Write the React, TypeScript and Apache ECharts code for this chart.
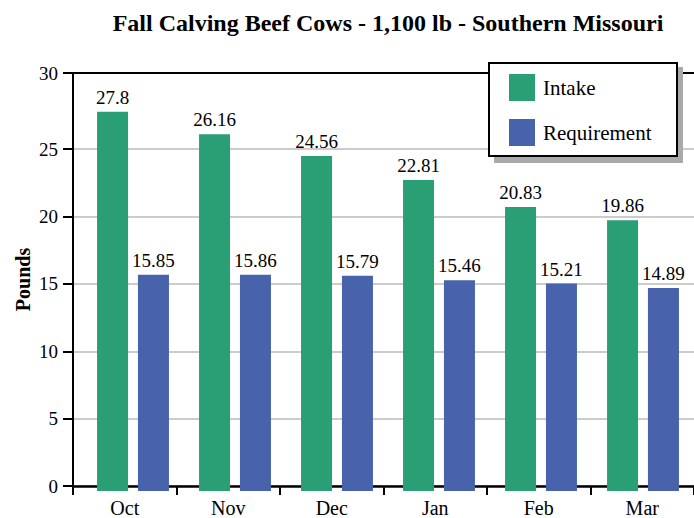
import React, { useEffect, useRef } from 'react';
import * as echarts from 'echarts';

const months = ['Oct', 'Nov', 'Dec', 'Jan', 'Feb', 'Mar'];
const intake = [27.8, 26.16, 24.56, 22.81, 20.83, 19.86];
const requirement = [15.85, 15.86, 15.79, 15.46, 15.21, 14.89];
const yTicks = [0, 5, 10, 15, 20, 25, 30];
const seriesNames = ['Intake', 'Requirement'];
const colors = ['#2a9e74', '#4863ac'];
const titleText = 'Fall Calving Beef Cows - 1,100 lb - Southern Missouri';

export default function App() {
  const ref = useRef<HTMLDivElement>(null);
  useEffect(() => {
    const chart = echarts.init(ref.current!, null, { renderer: 'svg' });
    const font = 'Liberation Serif';
    const yMax = 30.65;
    const tickVals = yTicks.map((v) => (v === 30 ? yMax : v));
    chart.setOption({
      animation: false,
      grid: [
        { left: 73, right: 0, top: 73, bottom: 27 },
        { left: 82, width: 617, top: 73, bottom: 27 },
      ],
      xAxis: [
        {
          type: 'category',
          gridIndex: 0,
          data: months,
          boundaryGap: true,
          axisLine: { lineStyle: { color: '#000', width: 2.5 } },
          axisTick: { show: true, length: 9, lineStyle: { color: '#000', width: 2 } },
          axisLabel: { fontFamily: font, fontSize: 20, color: '#000', margin: 12 },
        },
        { type: 'category', gridIndex: 1, data: months, show: false },
      ],
      yAxis: [
        {
          type: 'value',
          gridIndex: 0,
          min: 0,
          max: yMax,
          interval: 5,
          name: 'Pounds',
          nameLocation: 'middle',
          nameGap: 40,
          nameMoveOverlap: false,
          nameRotate: 90,
          nameTextStyle: { fontFamily: font, fontSize: 20, fontWeight: 'bold', color: '#000' },
          axisLine: { show: true, lineStyle: { color: '#000', width: 2 } },
          axisTick: { show: true, length: 10, customValues: tickVals, lineStyle: { color: '#000', width: 2 } },
          axisLabel: {
            customValues: tickVals,
            formatter: (v: number) => String(Math.round(v / 5) * 5),
            margin: 15,
            padding: [0, 0, 4, 0],
            fontFamily: font,
            fontSize: 19,
            color: '#000',
          },
          splitLine: {
            show: true,
            lineStyle: {
              color: ['#bbb', '#bbb', '#bbb', '#bbb', '#bbb', '#bbb', 'rgba(0,0,0,0)', 'rgba(0,0,0,0)'],
              width: 1.5,
            },
          },
        },
        { type: 'value', gridIndex: 1, min: 0, max: yMax, show: false, splitLine: { show: false } },
      ],
      legend: {
        data: seriesNames,
        orient: 'vertical',
        left: 509,
        top: 74,
        padding: 0,
        itemWidth: 26,
        itemHeight: 27,
        itemGap: 18,
        icon: 'rect',
        textStyle: { fontFamily: font, fontSize: 21, color: '#000', padding: [0, 0, 0, 3] },
        z: 10,
      },
      graphic: [
        { type: 'line', shape: { x1: 73, y1: 73, x2: 694, y2: 73 }, style: { stroke: '#000', lineWidth: 2 }, z: 5 },
        { type: 'rect', shape: { x: 494, y: 67, width: 189, height: 96 }, style: { fill: '#aaa' }, z: 8 },
        { type: 'rect', shape: { x: 489, y: 63, width: 188, height: 93 }, style: { fill: '#fff', stroke: '#000', lineWidth: 2 }, z: 9 },
        {
          type: 'text',
          x: 388,
          y: 23,
          style: {
            text: titleText,
            fontFamily: font,
            fontSize: 24,
            fontWeight: 'bold',
            fill: '#000',
            align: 'center',
            verticalAlign: 'middle',
          },
          z: 10,
        },
      ],
      series: [
        {
          type: 'bar',
          name: seriesNames[0],
          xAxisIndex: 1,
          yAxisIndex: 1,
          data: intake,
          barWidth: 31,
          barGap: '32%',
          itemStyle: { color: colors[0] },
          label: { show: true, position: 'top', distance: 5, fontFamily: font, fontSize: 19, color: '#000' },
        },
        {
          type: 'bar',
          name: seriesNames[1],
          xAxisIndex: 1,
          yAxisIndex: 1,
          data: requirement,
          barWidth: 31,
          barGap: '32%',
          itemStyle: { color: colors[1] },
          label: { show: true, position: 'top', distance: 5, fontFamily: font, fontSize: 19, color: '#000' },
        },
      ],
    });
    return () => chart.dispose();
  }, []);
  return <div ref={ref} style={{ position: 'absolute', left: 0, top: 0, width: 694, height: 518 }} />;
}
